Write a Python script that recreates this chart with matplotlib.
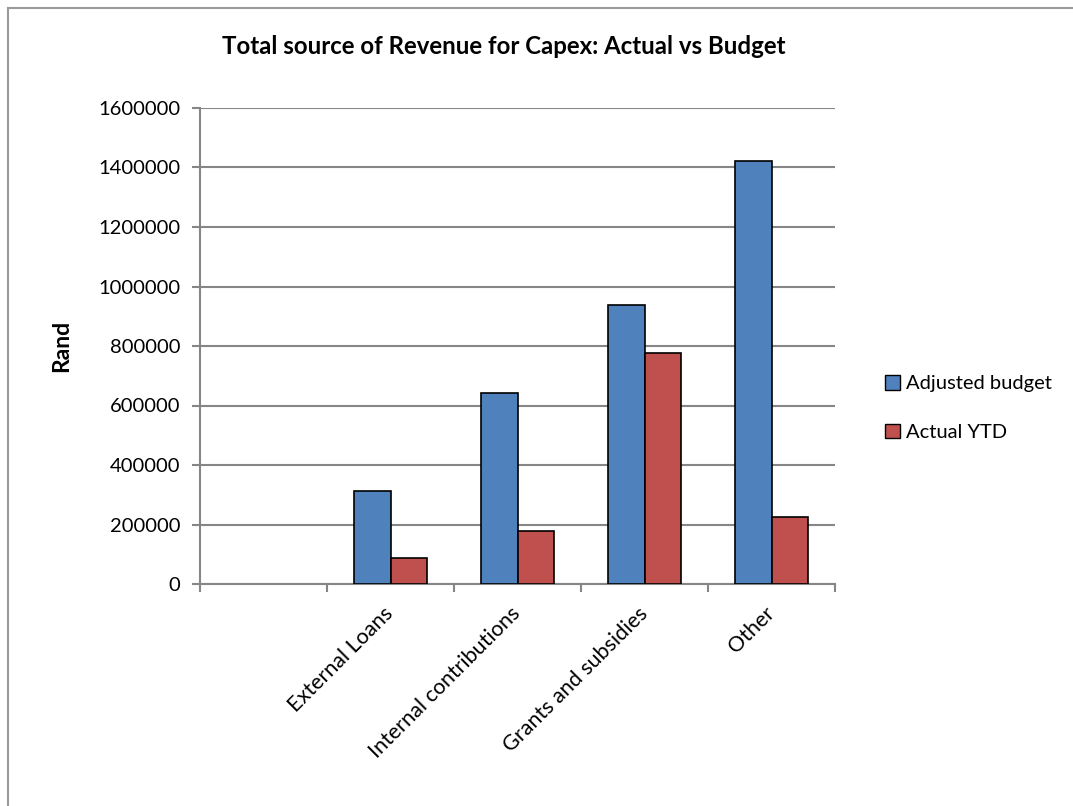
import numpy as np
import matplotlib
matplotlib.use("Agg")
import matplotlib.pyplot as plt
from matplotlib.lines import Line2D
from matplotlib.patches import Patch

plt.rcParams['font.family'] = ['Lato', 'DejaVu Sans']

# Capex funding sources (Rand)
categories = ["", "External Loans", "Internal contributions", "Grants and subsidies", "Other"]
adjusted_budget = [np.nan, 312000, 641000, 937000, 1421000]
actual_ytd = [np.nan, 88600, 177000, 775700, 225600]
series_names = ["Adjusted budget", "Actual YTD"]
y_ticks = [0, 200000, 400000, 600000, 800000, 1000000, 1200000, 1400000, 1600000]

blue = "#4F81BD"
red = "#C0504D"
grid_grey = "#868686"

fig = plt.figure(figsize=(10.73, 8.06), dpi=100)
ax = fig.add_axes([200 / 1073, 1 - 584 / 806, 635 / 1073, 476 / 806])

x = np.arange(len(categories))
width = 1 / 3.5
ax.bar(x - width / 2, adjusted_budget, width, color=blue, edgecolor="black", linewidth=1.2, zorder=3)
ax.bar(x + width / 2, actual_ytd, width, color=red, edgecolor="black", linewidth=1.2, zorder=3)

ax.set_xlim(-0.5, len(categories) - 0.5)
ax.set_ylim(0, 1600000)
ax.set_yticks(y_ticks)
ax.set_yticklabels([str(v) for v in y_ticks], fontsize=14.5)
ax.yaxis.grid(True, color=grid_grey, linewidth=1.5, zorder=0)
ax.set_axisbelow(True)

# category labels sit under the bar groups, tick marks on the boundaries
ax.set_xticks(x)
ax.set_xticklabels(categories, rotation=45, ha="right", va="center",
                   rotation_mode="anchor", fontsize=15.5)
ax.tick_params(axis="x", which="major", length=0, pad=19)
ax.set_xticks(np.arange(-0.5, len(categories)), minor=True)
ax.tick_params(axis="x", which="minor", length=6, width=1.5, color=grid_grey, direction="out")
ax.tick_params(axis="y", length=6, width=1.5, color=grid_grey, pad=8)

for side in ["top", "right"]:
    ax.spines[side].set_visible(False)
for side in ["left", "bottom"]:
    ax.spines[side].set_color(grid_grey)
    ax.spines[side].set_linewidth(1.5)

fig.text(62 / 1073, 1 - 346 / 806, "Rand", rotation=90, ha="center", va="center",
         fontsize=16.5, fontweight="bold")

fig.text(504 / 1073, 1 - 46 / 806, "Total source of Revenue for Capex: Actual vs Budget",
         ha="center", va="center", fontsize=17.3, fontweight="bold")

handles = [Patch(facecolor=blue, edgecolor="black", linewidth=1.0),
           Patch(facecolor=red, edgecolor="black", linewidth=1.0)]
fig.legend(handles, series_names, loc="center left",
           bbox_to_anchor=(867 / 1073, 1 - 408 / 806), frameon=False,
           fontsize=14.5, handlelength=0.75, handleheight=0.75,
           handletextpad=0.3, labelspacing=1.55)

# chart area outline (left and top edges)
fig.add_artist(Line2D([7.5 / 1073, 7.5 / 1073], [0, 1 - 7.5 / 806],
                      color="#9a9a9a", linewidth=1.5, transform=fig.transFigure))
fig.add_artist(Line2D([7.5 / 1073, 1], [1 - 7.5 / 806, 1 - 7.5 / 806],
                      color="#9a9a9a", linewidth=1.5, transform=fig.transFigure))

fig.savefig("out.png", dpi=100, facecolor="white")
